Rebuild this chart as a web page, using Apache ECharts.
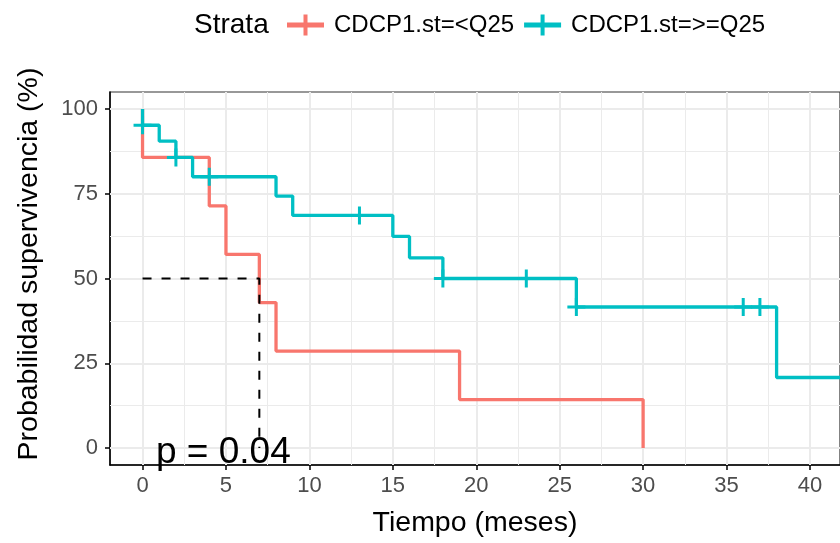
<!DOCTYPE html>
<html>
<head>
<meta charset="utf-8">
<title>Curva de supervivencia</title>
<script src="https://cdn.jsdelivr.net/npm/echarts@6/dist/echarts.min.js"></script>
<style>
  html, body { margin: 0; padding: 0; background: #fff; }
  #chart { width: 840px; height: 543px; }
</style>
</head>
<body>
<div id="chart"></div>
<script>
// Kaplan-Meier estimates (%) per stratum
const strataNames = ['CDCP1.st=<Q25', 'CDCP1.st=>=Q25'];
const strataColors = ['#F8766D', '#00BFC4'];

const timesLow = [0, 0, 4, 5, 7, 8, 19, 30];
const survLow = [100, 85.7, 71.4, 57.1, 42.9, 28.6, 14.3, 0];

const timesHigh = [0, 0, 1, 2, 3, 8, 9, 15, 16, 18, 26, 38, 43];
const survHigh = [100, 95.2, 90.5, 85.7, 80.0, 74.3, 68.6, 62.4, 56.1, 50.0, 41.6, 20.8, 20.8];

// censored observations
const censorTimesHigh = [0, 2, 4, 13, 18, 23, 26, 36, 37];
const censorSurvHigh = [95.2, 85.7, 80.0, 68.6, 50.0, 50.0, 41.6, 41.6, 41.6];

// median survival of the low group
const medianTime = 7;
const medianSurv = 50;

const pText = 'p = 0.04';
const xTitle = 'Tiempo (meses)';
const yTitle = 'Probabilidad supervivencia (%)';

// axes
const xTicks = [0, 5, 10, 15, 20, 25, 30, 35, 40];
const xMinor = [2.5, 7.5, 12.5, 17.5, 22.5, 27.5, 32.5, 37.5];
const yTicks = [0, 25, 50, 75, 100];
const yMinor = [12.5, 37.5, 62.5, 87.5];

const FONT = 'Liberation Sans, Arial, Helvetica, sans-serif';

const zip = (a, b) => a.map((v, i) => [v, b[i]]);

const crossPath = 'path://M0,7.5 H18 V10.5 H0 Z M7.5,0 H10.5 V18 H7.5 Z';
const legendCross = 'path://M0,8 H37 V13 H0 Z M16.5,0 H20.5 V21 H16.5 Z';

const gridLines = (vals, key, width) => vals.map(v => ({ [key]: v, lineStyle: { width: width } }));

const chart = echarts.init(document.getElementById('chart'), null, { renderer: 'canvas' });

chart.setOption({
  animation: false,
  backgroundColor: '#ffffff',
  title: {
    text: 'Strata',
    left: 189,
    top: 6,
    textStyle: { fontFamily: FONT, fontSize: 28, fontWeight: 'normal', color: '#000' }
  },
  legend: {
    data: strataNames,
    left: 287,
    top: 13,
    padding: 0,
    icon: legendCross,
    itemWidth: 37,
    itemHeight: 21,
    itemGap: 10,
    itemStyle: { borderWidth: 0 },
    lineStyle: { width: 0 },
    textStyle: { fontFamily: FONT, fontSize: 24, color: '#000', padding: [0, 0, 0, 5] }
  },
  grid: {
    left: 110,
    right: -6,
    top: 92,
    bottom: 76,
    show: true,
    borderColor: '#333',
    borderWidth: 1.2,
    backgroundColor: '#fff'
  },
  xAxis: {
    type: 'value',
    min: -1.95,
    max: 41.8,
    name: xTitle,
    nameLocation: 'middle',
    nameGap: 44,
    nameTextStyle: { fontFamily: FONT, fontSize: 28.5, color: '#000' },
    axisLine: { show: true, onZero: false, lineStyle: { color: '#000', width: 1.5 } },
    axisTick: { show: true, length: 5, customValues: xTicks, lineStyle: { color: '#000', width: 1.5 } },
    axisLabel: { customValues: xTicks, margin: 10, fontFamily: FONT, fontSize: 22, color: '#4d4d4d' },
    splitLine: { show: false }
  },
  yAxis: {
    type: 'value',
    min: -5,
    max: 105,
    axisLine: { show: true, onZero: false, lineStyle: { color: '#000', width: 1.5 } },
    axisTick: { show: true, length: 5, customValues: yTicks, lineStyle: { color: '#000', width: 1.5 } },
    axisLabel: { customValues: yTicks, margin: 12, fontFamily: FONT, fontSize: 22, color: '#4d4d4d' },
    splitLine: { show: false }
  },
  series: [
    {
      name: 'grid',
      type: 'line',
      data: [],
      silent: true,
      z: 1,
      markLine: {
        z: 1,
        silent: true,
        symbol: 'none',
        label: { show: false },
        lineStyle: { color: '#ebebeb', type: 'solid' },
        data: [].concat(
          gridLines(xMinor, 'xAxis', 1),
          gridLines(yMinor, 'yAxis', 1),
          gridLines(xTicks, 'xAxis', 2),
          gridLines(yTicks, 'yAxis', 2)
        )
      }
    },
    {
      name: strataNames[0],
      type: 'line',
      step: 'end',
      data: zip(timesLow, survLow),
      showSymbol: false,
      symbol: 'none',
      color: strataColors[0],
      lineStyle: { color: strataColors[0], width: 3.3 },
      z: 3
    },
    {
      name: strataNames[1],
      type: 'line',
      step: 'end',
      data: zip(timesHigh, survHigh),
      showSymbol: false,
      symbol: 'none',
      color: strataColors[1],
      lineStyle: { color: strataColors[1], width: 3.3 },
      z: 4
    },
    {
      name: 'censor-high',
      type: 'scatter',
      data: zip(censorTimesHigh, censorSurvHigh),
      symbol: crossPath,
      symbolSize: 18,
      itemStyle: { color: strataColors[1], opacity: 1 },
      silent: true,
      z: 5
    },
    {
      name: 'median',
      type: 'line',
      data: [[0, medianSurv], [medianTime, medianSurv], [medianTime, 0]],
      showSymbol: false,
      symbol: 'none',
      lineStyle: { color: '#000', width: 2, type: [9, 10] },
      silent: true,
      z: 6
    }
  ],
  graphic: [
    {
      type: 'text',
      left: 156,
      top: 434,
      z: 100,
      style: { text: pText, font: '37px ' + FONT, fill: '#000' }
    },
    {
      type: 'text',
      x: 29,
      y: 264,
      rotation: Math.PI / 2,
      z: 100,
      style: {
        text: yTitle,
        font: '28.5px ' + FONT,
        fill: '#000',
        align: 'center',
        verticalAlign: 'middle'
      }
    }
  ]
});
</script>
</body>
</html>
